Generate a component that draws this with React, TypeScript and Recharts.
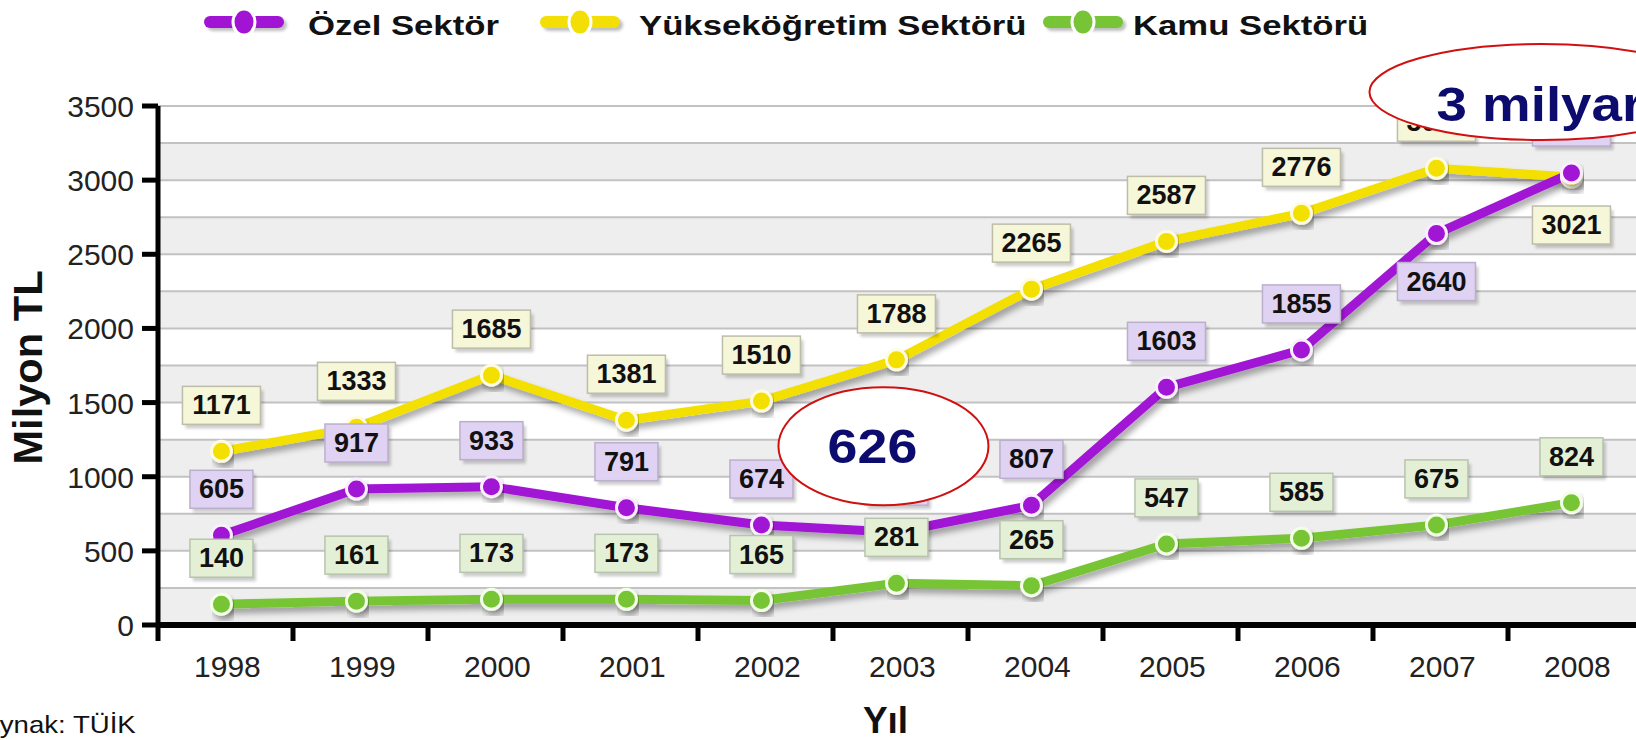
import React from 'react';
import { LineChart, Line, XAxis, YAxis, CartesianGrid, Legend, ReferenceDot, LabelList } from 'recharts';

const years = ['1998', '1999', '2000', '2001', '2002', '2003', '2004', '2005', '2006', '2007', '2008'];
const ozelValues = [605, 917, 933, 791, 674, 626, 807, 1603, 1855, 2640, 3048];
const yuksekValues = [1171, 1333, 1685, 1381, 1510, 1788, 2265, 2587, 2776, 3080, 3021];
const kamuValues = [140, 161, 173, 173, 165, 281, 265, 547, 585, 675, 824];
const ozelLabelSide = ['up', 'up', 'up', 'up', 'up', 'up', 'up', 'up', 'up', 'down', 'up'];
const yuksekLabelSide = ['up', 'up', 'up', 'up', 'up', 'up', 'up', 'up', 'up', 'up', 'down'];
const kamuLabelSide = ['up', 'up', 'up', 'up', 'up', 'up', 'up', 'up', 'up', 'up', 'up'];
const yTicks = [0, 250, 500, 750, 1000, 1250, 1500, 1750, 2000, 2250, 2500, 2750, 3000, 3250, 3500];
const seriesNames = ['Özel Sektör', 'Yükseköğretim Sektörü', 'Kamu Sektörü'];
const calloutTexts = ['626', '3 milyar'];
const sourceText = 'Kaynak: TÜİK';
const yAxisTitle = 'Milyon TL';
const xAxisTitle = 'Yıl';

const PURPLE = '#a114d4';
const YELLOW = '#f3df06';
const GREEN = '#77c436';
const FONT = '"Liberation Sans", Arial, Helvetica, sans-serif';

const X_START = -0.47;

const data = years.map((y, i) => ({
  i,
  year: y,
  ozel: ozelValues[i],
  yuksek: yuksekValues[i],
  kamu: kamuValues[i],
}));

const xTicks: number[] = [];
for (let k = 0; k < years.length; k++) {
  xTicks.push(X_START + k);
  xTicks.push(k);
}
xTicks.push(X_START + years.length);

const makeLabel = (sides: string[], values: number[], fill: string, border: string) => (props: any) => {
  const { x, y, value } = props;
  let index = props.index;
  if (index === undefined || index === null) index = values.indexOf(Number(value));
  const side = sides[index] || 'up';
  const text = String(value);
  const w = text.length * 15 + 18;
  const h = 38;
  const cy = side === 'up' ? y - 46 : y + 48;
  return (
    <g>
      <rect x={x - w / 2 + 3} y={cy - h / 2 + 4} width={w} height={h} fill="#000" opacity={0.2} filter="url(#boxBlur)" />
      <rect x={x - w / 2} y={cy - h / 2} width={w} height={h} fill={fill} stroke={border} strokeWidth={1.5} />
      <text x={x} y={cy + 9} textAnchor="middle" fontFamily={FONT} fontWeight="bold" fontSize={27} fill="#111">
        {text}
      </text>
    </g>
  );
};

const XTick = (props: any) => {
  const { x, y, payload } = props;
  const v = payload.value;
  if (Number.isInteger(v)) {
    return (
      <text x={x + 6} y={y + 52} textAnchor="middle" fontFamily={FONT} fontSize={30} fill="#222">
        {years[v]}
      </text>
    );
  }
  return <line x1={x} x2={x} y1={y} y2={y + 16} stroke="#000" strokeWidth={5} />;
};

const YTick = (props: any) => {
  const { x, y, payload } = props;
  const v = payload.value;
  if (v % 500 !== 0) return <g />;
  return (
    <g>
      <line x1={x - 16} x2={x} y1={y} y2={y} stroke="#000" strokeWidth={5} />
      <text x={x - 24} y={y + 11} textAnchor="end" fontFamily={FONT} fontSize={30} fill="#222">
        {v}
      </text>
    </g>
  );
};

const legendColors = [PURPLE, YELLOW, GREEN];
const legendIconX = [204, 540, 1043];
const legendTextGap = [104, 99, 90];

const LegendContent = () => (
  <svg width={1636} height={50} style={{ display: 'block' }}>
    {seriesNames.map((name, k) => {
      const ix = legendIconX[k];
      return (
        <g key={name}>
          <rect x={ix + 3} y={19} width={80} height={12} rx={6} fill="#000" opacity={0.25} filter="url(#boxBlur)" />
          <rect x={ix} y={16} width={80} height={12} rx={6} fill={legendColors[k]} />
          <ellipse cx={ix + 40} cy={22} rx={11} ry={13} fill={legendColors[k]} stroke="#fff" strokeWidth={3} />
          <text
            x={0}
            y={0}
            transform={`translate(${ix + legendTextGap[k]},35) scale(1.24,1)`}
            fontFamily={FONT}
            fontWeight="bold"
            fontSize={28}
            fill="#111"
          >
            {name}
          </text>
        </g>
      );
    })}
  </svg>
);

const Callout626 = (props: any) => {
  const { cx, cy } = props;
  return (
    <g>
      <ellipse cx={cx - 13} cy={cy - 86} rx={105} ry={59} fill="#fff" stroke="#d01010" strokeWidth={2} />
      <text
        x={0}
        y={0}
        transform={`translate(${cx - 24},${cy - 69}) scale(1.12,1)`}
        textAnchor="middle"
        fontFamily={FONT}
        fontWeight="bold"
        fontSize={48}
        fill="#0c0c6e"
      >
        {calloutTexts[0]}
      </text>
    </g>
  );
};

const CalloutMilyar = (props: any) => {
  const { cx, cy } = props;
  return (
    <g>
      <ellipse cx={cx - 30} cy={cy - 81} rx={172} ry={48} fill="#fff" stroke="#d01010" strokeWidth={2} />
      <text
        x={0}
        y={0}
        transform={`translate(${cx - 135},${cy - 52}) scale(1.14,1)`}
        fontFamily={FONT}
        fontWeight="bold"
        fontSize={48}
        fill="#0c0c6e"
      >
        {calloutTexts[1]}
      </text>
    </g>
  );
};

const YAxisTitle = (props: any) => {
  const vb = props.viewBox || { x: 8, y: 106, width: 150, height: 519 };
  const cx = vb.x + 34;
  const cy = vb.y + vb.height / 2 + 2;
  return (
    <text
      x={0}
      y={0}
      transform={`translate(${cx},${cy}) rotate(-90) scale(1.04,1)`}
      textAnchor="middle"
      fontFamily={FONT}
      fontWeight="bold"
      fontSize={40}
      fill="#111"
    >
      {yAxisTitle}
    </text>
  );
};

const XAxisTitle = (props: any) => {
  const vb = props.viewBox || { x: 158, y: 625, width: 1485, height: 60 };
  const cx = vb.x + vb.width / 2 - 15;
  const by = vb.y + 108;
  return (
    <g>
      <text x={cx} y={by} textAnchor="middle" fontFamily={FONT} fontWeight="bold" fontSize={37} fill="#111">
        {xAxisTitle}
      </text>
      <text x={0} y={0} transform={`translate(-34,${by}) scale(1.15,1)`} fontFamily={FONT} fontSize={24} fill="#111">
        {sourceText}
      </text>
    </g>
  );
};

export default function App() {
  return (
    <div
      style={{
        position: 'absolute',
        left: 0,
        top: 0,
        width: 1636,
        height: 740,
        overflow: 'hidden',
        background: '#fff',
      }}
    >
      <svg width={0} height={0} style={{ position: 'absolute' }}>
        <defs>
          <filter id="lineShadow" x="-10%" y="-20%" width="120%" height="150%">
            <feGaussianBlur in="SourceAlpha" stdDeviation={3} />
            <feOffset dx={3} dy={5} result="off" />
            <feComponentTransfer>
              <feFuncA type="linear" slope={0.35} />
            </feComponentTransfer>
            <feMerge>
              <feMergeNode />
              <feMergeNode in="SourceGraphic" />
            </feMerge>
          </filter>
          <filter id="boxBlur" x="-20%" y="-20%" width="140%" height="140%">
            <feGaussianBlur stdDeviation={1.5} />
          </filter>
        </defs>
      </svg>
      <LineChart width={1660} height={740} data={data} margin={{ top: 106, right: 17, bottom: 55, left: 8 }}>
        <CartesianGrid vertical={false} stroke="#c2c2c2" strokeWidth={2} horizontalFill={['#ffffff', '#eeeeee']} fillOpacity={1} />
        <XAxis
          dataKey="i"
          type="number"
          domain={[X_START, X_START + years.length]}
          ticks={xTicks}
          interval={0}
          tick={<XTick />}
          tickLine={false}
          tickSize={0}
          tickMargin={0}
          height={60}
          axisLine={{ stroke: '#000', strokeWidth: 6 }}
          label={<XAxisTitle />}
          allowDataOverflow
        />
        <YAxis
          type="number"
          domain={[0, 3500]}
          ticks={yTicks}
          interval={0}
          tick={<YTick />}
          tickLine={false}
          tickSize={0}
          tickMargin={0}
          width={150}
          axisLine={{ stroke: '#000', strokeWidth: 5 }}
          label={<YAxisTitle />}
        />
        <Legend
          layout="horizontal"
          verticalAlign="middle"
          align="center"
          wrapperStyle={{ top: 0, left: 0, width: 1636, height: 50 }}
          content={<LegendContent />}
        />
        <Line
          dataKey="yuksek"
          name={seriesNames[1]}
          stroke={YELLOW}
          strokeWidth={9}
          type="linear"
          isAnimationActive={false}
          filter="url(#lineShadow)"
          dot={{ r: 10, fill: YELLOW, stroke: '#fffbe0', strokeWidth: 3 }}
        >
          <LabelList dataKey="yuksek" content={makeLabel(yuksekLabelSide, yuksekValues, '#f6f6d9', '#bdbdaa')} />
        </Line>
        <Line
          dataKey="kamu"
          name={seriesNames[2]}
          stroke={GREEN}
          strokeWidth={9}
          type="linear"
          isAnimationActive={false}
          filter="url(#lineShadow)"
          dot={{ r: 10, fill: GREEN, stroke: '#f3ffe8', strokeWidth: 3 }}
        >
          <LabelList dataKey="kamu" content={makeLabel(kamuLabelSide, kamuValues, '#e3f0d6', '#b8c4ad')} />
        </Line>
        <Line
          dataKey="ozel"
          name={seriesNames[0]}
          stroke={PURPLE}
          strokeWidth={9}
          type="linear"
          isAnimationActive={false}
          filter="url(#lineShadow)"
          dot={{ r: 10, fill: PURPLE, stroke: '#fbeeff', strokeWidth: 3 }}
        >
          <LabelList dataKey="ozel" content={makeLabel(ozelLabelSide, ozelValues, '#dfd2f2', '#bbb0cc')} />
        </Line>
        <ReferenceDot x={5} y={ozelValues[5]} r={0} ifOverflow="visible" shape={<Callout626 />} zIndex={3000} />
        <ReferenceDot x={10} y={ozelValues[10]} r={0} ifOverflow="visible" shape={<CalloutMilyar />} zIndex={3000} />
      </LineChart>
    </div>
  );
}
